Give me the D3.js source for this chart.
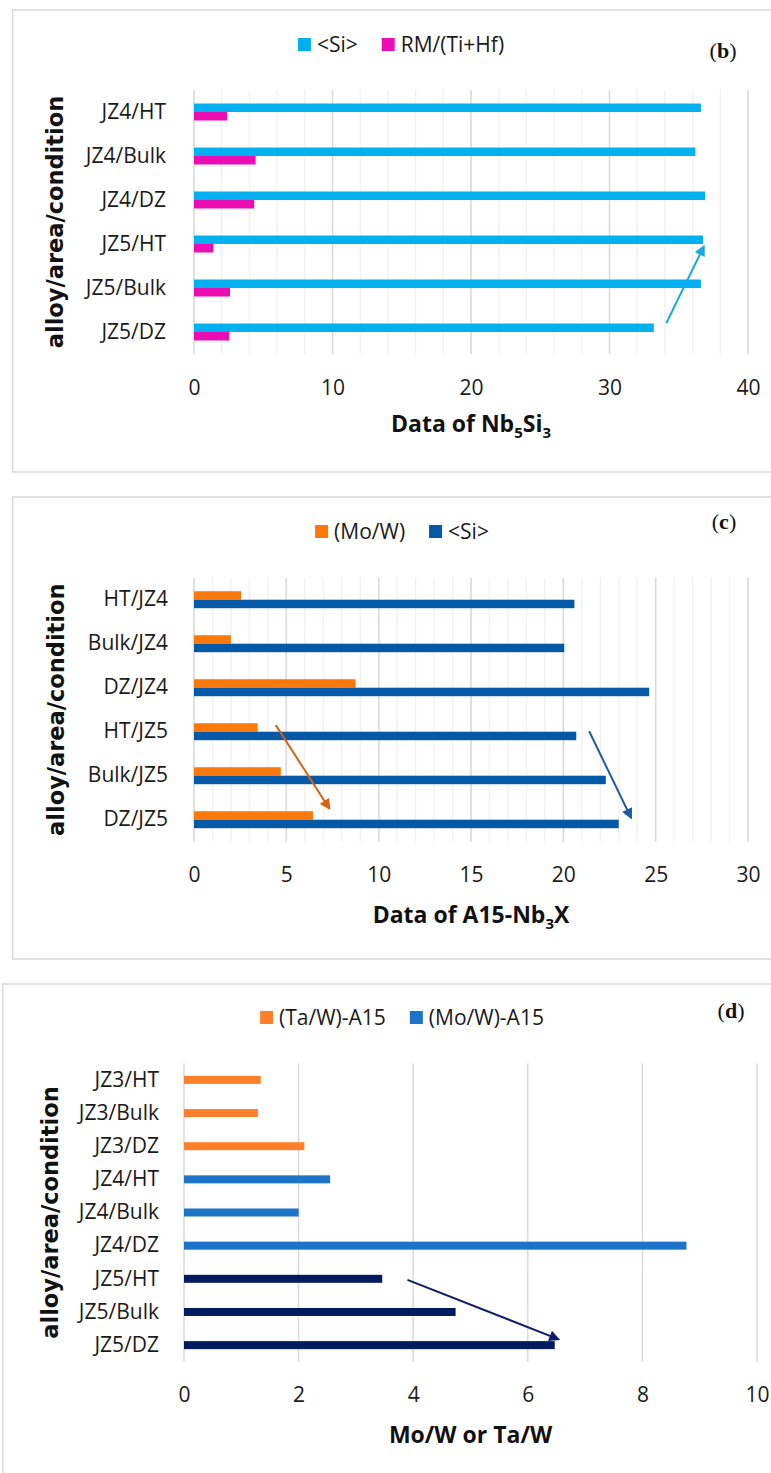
<!DOCTYPE html>
<html>
<head>
<meta charset="utf-8">
<script src="https://cdn.jsdelivr.net/npm/d3@7"></script>
<style>
  body { margin: 0; background: #fff; }
  svg { display: block; }
  .lbl { font-family: "Open Sans", "Noto Sans", sans-serif; font-size: 21px; fill: #1a1a1a; }
  .ttl { font-family: "Open Sans", "Noto Sans", sans-serif; font-size: 23px; font-weight: bold; fill: #111; }
  .ytl { font-family: "DejaVu Sans", sans-serif; font-size: 22.5px; font-weight: bold; fill: #111; }
  .tag { font-family: "Liberation Serif", serif; font-size: 22px; fill: #111; }
</style>
</head>
<body>
<div id="chart"></div>
<script>
// ---- data ----
var catsB = ["JZ4/HT", "JZ4/Bulk", "JZ4/DZ", "JZ5/HT", "JZ5/Bulk", "JZ5/DZ"];
var siB = [36.6, 36.2, 36.9, 36.75, 36.6, 33.2];
var rmB = [2.4, 4.45, 4.35, 1.4, 2.6, 2.55];
var ticksB = [0, 10, 20, 30, 40];

var catsC = ["HT/JZ4", "Bulk/JZ4", "DZ/JZ4", "HT/JZ5", "Bulk/JZ5", "DZ/JZ5"];
var moWC = [2.55, 2.0, 8.75, 3.45, 4.7, 6.45];
var siC = [20.6, 20.05, 24.65, 20.7, 22.3, 23.0];
var ticksC = [0, 5, 10, 15, 20, 25, 30];

var catsD = ["JZ3/HT", "JZ3/Bulk", "JZ3/DZ", "JZ4/HT", "JZ4/Bulk", "JZ4/DZ", "JZ5/HT", "JZ5/Bulk", "JZ5/DZ"];
var ratioD = [1.34, 1.29, 2.1, 2.55, 2.0, 8.77, 3.46, 4.74, 6.47];
var ticksD = [0, 2, 4, 6, 8, 10];

// arrows: value on x, fractional category index on y
var arrowB = [{ x1: 34.1, i1: 4.8, x2: 36.8, i2: 3.06 }];
var arrowC = [{ x1: 4.43, i1: 2.85, x2: 7.32, i2: 4.74, s: "or" },
              { x1: 21.4, i1: 2.99, x2: 23.66, i2: 4.95, s: "bl" }];
var arrowD = [{ x1: 3.9, i1: 6.03, x2: 6.53, i2: 7.82 }];

var svg = d3.select("#chart").append("svg")
  .attr("width", 771)
  .attr("height", 1473);

var defs = svg.append("defs");
function marker(id, color) {
  defs.append("marker")
    .attr("id", id)
    .attr("viewBox", "0 0 10 10")
    .attr("refX", 8).attr("refY", 5)
    .attr("markerWidth", 6).attr("markerHeight", 5.5)
    .attr("orient", "auto")
    .append("path")
    .attr("d", "M0,0L10,5L0,10z")
    .attr("fill", color);
}
marker("mB", "#17A9E3");
marker("mCor", "#D9620F");
marker("mCbl", "#1A5EA0");
marker("mD", "#0E1C68");

// generic panel
function panel(o) {
  var g = svg.append("g");

  g.append("rect")
    .attr("x", o.box[0]).attr("y", o.box[1])
    .attr("width", 800).attr("height", o.box[2])
    .attr("fill", "none").attr("stroke", "#D9D9D9").attr("stroke-width", 1.5);

  var x = d3.scaleLinear().domain(o.domain).range([o.x0, o.x1]);
  var y = d3.scaleBand().domain(o.cats).range([o.top, o.bottom]);

  // minor + major gridlines
  if (o.minor) {
    g.append("g").selectAll("line")
      .data(d3.range(o.domain[0], o.domain[1] + 0.001, o.minor))
      .enter().append("line")
      .attr("x1", d => x(d)).attr("x2", d => x(d))
      .attr("y1", o.top).attr("y2", o.bottom)
      .attr("stroke", "#EFEFEF").attr("stroke-width", 1.2);
  }
  g.append("g").selectAll("line")
    .data(o.ticks)
    .enter().append("line")
    .attr("x1", d => x(d)).attr("x2", d => x(d))
    .attr("y1", o.top).attr("y2", o.bottom)
    .attr("stroke", "#D9D9D9").attr("stroke-width", 1.5);

  // x axis labels
  var xAxis = d3.axisBottom(x).tickValues(o.ticks).tickSize(0).tickPadding(0);
  var ax = g.append("g")
    .attr("transform", `translate(0,${o.bottom + o.tickGap})`)
    .call(xAxis);
  ax.select(".domain").remove();
  ax.selectAll("text").attr("class", "lbl").attr("dy", "0.35em")
    .attr("font-size", null).attr("font-family", null).attr("fill", null);

  // y axis category labels
  var yAxis = d3.axisLeft(y).tickSize(0).tickPadding(0);
  var ay = g.append("g")
    .attr("transform", `translate(${o.x0 - o.labGap},0)`)
    .call(yAxis);
  ay.select(".domain").remove();
  ay.selectAll("text").attr("class", "lbl")
    .attr("font-size", null).attr("font-family", null).attr("fill", null);

  // bars
  o.series.forEach(function (s) {
    g.append("g").selectAll("rect")
      .data(s.values)
      .enter().append("rect")
      .attr("x", x(0))
      .attr("y", (d, i) => y(o.cats[i]) + y.bandwidth() / 2 + s.off)
      .attr("width", d => x(d) - x(0))
      .attr("height", o.barH)
      .attr("fill", (d, i) => s.colorAt ? s.colorAt(i) : s.color);
  });

  // arrows
  var yi = d => o.top + (d + 0.5) * y.step();
  o.arrows.forEach(function (a) {
    g.append("line")
      .attr("x1", x(a.x1)).attr("y1", yi(a.i1))
      .attr("x2", x(a.x2)).attr("y2", yi(a.i2))
      .attr("stroke", o.arrowColor(a)).attr("stroke-width", 2)
      .attr("marker-end", `url(#${o.arrowMarker(a)})`);
  });

  // axis titles
  var t = g.append("text").attr("class", "ttl")
    .attr("x", (o.x0 + o.x1) / 2).attr("y", o.bottom + o.titleGap)
    .attr("dy", "0.35em").attr("text-anchor", "middle");
  o.title.forEach(function (p) {
    var ts = t.append("tspan").text(p[0]);
    if (p[1]) ts.attr("font-size", "15px").attr("dy", 6);
    else if (p[2]) ts.attr("dy", -6);
  });

  g.append("text").attr("class", "ytl")
    .attr("transform", `translate(${o.ytX},${(o.top + o.bottom) / 2}) rotate(-90)`)
    .attr("dy", "0.35em").attr("text-anchor", "middle")
    .text("alloy/area/condition");

  // legend, centred
  var lg = g.append("g").attr("transform", `translate(0,${o.legY})`);
  var cx = 0;
  o.legend.forEach(function (l, k) {
    lg.append("rect").attr("x", cx).attr("y", -7).attr("width", 13).attr("height", 13).attr("fill", l[1]);
    var tx = lg.append("text").attr("class", "lbl").attr("x", cx + 19).attr("dy", "0.35em").text(l[0]);
    cx += 19 + tx.node().getComputedTextLength() + 24;
  });
  cx -= 24;
  lg.attr("transform", `translate(${o.legC - cx / 2},${o.legY})`);

  // panel tag
  var tag = g.append("text").attr("class", "tag")
    .attr("x", o.tagX).attr("y", o.tagY).attr("dy", "0.35em").attr("text-anchor", "middle");
  tag.append("tspan").text("(");
  tag.append("tspan").attr("font-weight", "bold").text(o.tag);
  tag.append("tspan").text(")");
}

panel({
  box: [12.7, 10, 462], cats: catsB, domain: [0, 40], ticks: ticksB, minor: 2,
  x0: 194, x1: 748, top: 90, bottom: 354, barH: 8.5, tickGap: 34, titleGap: 70, labGap: 28, ytX: 55,
  series: [{ values: siB, color: "#00B0F0", off: -8.5 }, { values: rmB, color: "#EA0DB4", off: 0 }],
  arrows: arrowB, arrowColor: a => "#17A9E3", arrowMarker: a => "mB",
  title: [["Data of Nb"], ["5", true], ["Si", false, true], ["3", true]],
  legend: [["<Si>", "#00B0F0"], ["RM/(Ti+Hf)", "#EA0DB4"]], legY: 45, legC: 401,
  tag: "b", tagX: 723, tagY: 50
});

panel({
  box: [12.7, 497, 462], cats: catsC, domain: [0, 30], ticks: ticksC, minor: 1,
  x0: 194, x1: 748, top: 577.7, bottom: 841.7, barH: 8.5, tickGap: 33, titleGap: 73, labGap: 26, ytX: 56,
  series: [{ values: moWC, color: "#FF780A", off: -8.5 }, { values: siC, color: "#0459A6", off: 0 }],
  arrows: arrowC,
  arrowColor: a => a.s == "or" ? "#D9620F" : "#1A5EA0",
  arrowMarker: a => a.s == "or" ? "mCor" : "mCbl",
  title: [["Data of A15-Nb"], ["3", true], ["X", false, true]],
  legend: [["(Mo/W)", "#FF780A"], ["<Si>", "#0459A6"]], legY: 532, legC: 402,
  tag: "c", tagX: 724, tagY: 521
});

var colD = d => d < 3 ? "#FF7F2A" : (d < 6 ? "#1B74C8" : "#011B5E");
panel({
  box: [2.7, 984, 600], cats: catsD, domain: [0, 10], ticks: ticksD, minor: 0,
  x0: 184, x1: 757, top: 1063.3, bottom: 1361.7, barH: 8, tickGap: 33, titleGap: 73, labGap: 25, ytX: 50,
  series: [{ values: ratioD, colorAt: colD, off: -4 }],
  arrows: arrowD, arrowColor: a => "#0E1C68", arrowMarker: a => "mD",
  title: [["Mo/W or Ta/W"]],
  legend: [["(Ta/W)-A15", "#FF7F2A"], ["(Mo/W)-A15", "#1B74C8"]], legY: 1018, legC: 402,
  tag: "d", tagX: 731, tagY: 1010
});
</script>
</body>
</html>
